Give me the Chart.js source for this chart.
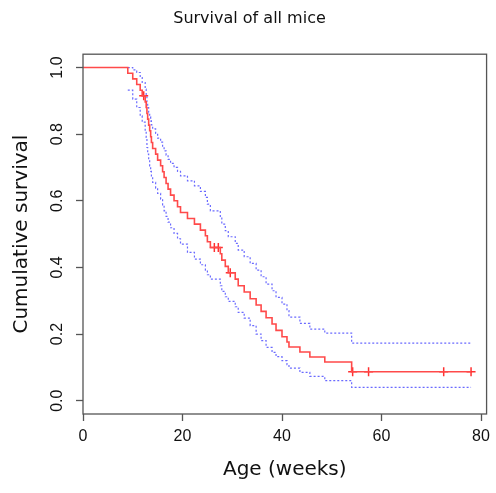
<!DOCTYPE html>
<html>
<head>
<meta charset="utf-8">
<script src="https://cdn.jsdelivr.net/npm/chart.js@4.4.1/dist/chart.umd.min.js"></script>
<style>
  body { margin: 0; background: #fff; }
</style>
</head>
<body>
<canvas id="survivalChart" width="496" height="493"></canvas>
<script>
// Kaplan-Meier estimate
const weeks = [0, 9.0, 10.0, 10.8, 11.5, 11.9, 12.5, 12.7, 12.85, 13.0, 13.2, 13.4, 13.6, 13.75, 14.0, 14.6, 15.0, 15.6, 16.0, 16.3, 16.7, 17.1, 17.6, 18.3, 19.0, 19.6, 21.0, 22.4, 23.6, 24.6, 25.0, 25.6, 27.6, 27.9, 28.6, 29.2, 30.6, 31.2, 32.4, 33.6, 34.8, 35.8, 36.8, 38.0, 38.8, 40.0, 41.0, 41.4, 43.6, 45.6, 48.6, 54.0, 78.0];
const survival = [1, 0.983, 0.966, 0.949, 0.932, 0.915, 0.897, 0.880, 0.862, 0.845, 0.827, 0.810, 0.792, 0.775, 0.757, 0.740, 0.722, 0.705, 0.687, 0.670, 0.652, 0.635, 0.617, 0.600, 0.582, 0.565, 0.547, 0.530, 0.512, 0.495, 0.477, 0.460, 0.441, 0.422, 0.403, 0.384, 0.365, 0.345, 0.326, 0.306, 0.287, 0.268, 0.249, 0.230, 0.211, 0.192, 0.176, 0.161, 0.146, 0.131, 0.116, 0.087, 0.087];
const upperCI = [null, 1.000, 0.993, 0.985, 0.970, 0.955, 0.935, 0.915, 0.895, 0.880, 0.866, 0.852, 0.840, 0.828, 0.816, 0.802, 0.788, 0.776, 0.762, 0.750, 0.737, 0.724, 0.712, 0.700, 0.688, 0.675, 0.660, 0.645, 0.628, 0.610, 0.590, 0.570, 0.550, 0.530, 0.510, 0.492, 0.472, 0.452, 0.432, 0.412, 0.392, 0.372, 0.350, 0.330, 0.310, 0.290, 0.270, 0.251, 0.232, 0.215, 0.203, 0.173, 0.173];
const lowerCI = [null, 0.932, 0.905, 0.880, 0.855, 0.836, 0.812, 0.790, 0.760, 0.740, 0.722, 0.705, 0.688, 0.672, 0.655, 0.638, 0.622, 0.605, 0.588, 0.570, 0.553, 0.536, 0.519, 0.502, 0.486, 0.470, 0.445, 0.425, 0.408, 0.392, 0.378, 0.365, 0.345, 0.328, 0.312, 0.298, 0.282, 0.265, 0.248, 0.225, 0.200, 0.180, 0.160, 0.145, 0.132, 0.120, 0.108, 0.098, 0.085, 0.073, 0.060, 0.040, 0.040];

// censored mice (+ marks)
const censorWeeks = [12.2, 26.4, 27.2, 29.6, 54.2, 57.4, 72.5, 78.0];
const censorSurvival = [0.915, 0.460, 0.460, 0.384, 0.087, 0.087, 0.087, 0.087];

const xTicks = [0, 20, 40, 60, 80];
const yTicks = [0, 0.2, 0.4, 0.6, 0.8, 1.0];

function toPoints(xs, ys) {
    return xs.map((x, i) => ({ x: x, y: ys[i] }));
}

const axisGrey = '#555';

// R style box round the plot region
const boxPlugin = {
    id: 'plotBox',
    afterDraw(chart) {
        const { ctx, chartArea } = chart;
        ctx.save();
        ctx.strokeStyle = axisGrey;
        ctx.lineWidth = 1.3;
        ctx.strokeRect(chartArea.left, chartArea.top, chartArea.right - chartArea.left, chartArea.bottom - chartArea.top);
        ctx.restore();
    }
};

new Chart(document.getElementById('survivalChart'), {
    type: 'line',
    data: {
        datasets: [
            {
                label: 'Survival',
                data: toPoints(weeks, survival),
                borderColor: '#ff4a4a',
                borderWidth: 1.6,
                stepped: true,
                pointRadius: 0
            },
            {
                type: 'scatter',
                label: 'Censored',
                data: toPoints(censorWeeks, censorSurvival),
                pointStyle: 'cross',
                pointRadius: 4.5,
                borderColor: '#ff3030',
                borderWidth: 1.5
            },
            {
                label: 'Upper 95% CI',
                data: toPoints(weeks, upperCI),
                borderColor: '#6a6aff',
                borderWidth: 1.2,
                borderDash: [2, 2],
                stepped: true,
                pointRadius: 0
            },
            {
                label: 'Lower 95% CI',
                data: toPoints(weeks, lowerCI),
                borderColor: '#6a6aff',
                borderWidth: 1.2,
                borderDash: [2, 2],
                stepped: true,
                pointRadius: 0
            }
        ]
    },
    options: {
        responsive: false,
        animation: false,
        layout: { padding: { left: 10, right: 7, top: 0, bottom: 0 } },
        plugins: {
            legend: { display: false },
            tooltip: { enabled: false },
            title: {
                display: true,
                text: 'Survival of all mice',
                color: '#111',
                font: { family: 'DejaVu Sans', size: 16, weight: 'normal' },
                padding: { top: 9, bottom: 26 }
            }
        },
        scales: {
            x: {
                type: 'linear',
                min: 0,
                max: 81.12,
                afterBuildTicks: (scale) => { scale.ticks = xTicks.map(v => ({ value: v })); },
                afterFit: (scale) => { scale.height = 79; },
                border: { display: false },
                grid: { drawOnChartArea: false, drawTicks: true, tickLength: 7, tickColor: axisGrey, tickWidth: 1.3 },
                ticks: {
                    color: '#111',
                    padding: 6,
                    font: { family: 'Liberation Sans', size: 16 }
                },
                title: {
                    display: true,
                    text: 'Age (weeks)',
                    color: '#111',
                    font: { family: 'DejaVu Sans', size: 20 },
                    padding: { top: 0, bottom: 11 }
                }
            },
            y: {
                type: 'linear',
                min: -0.04,
                max: 1.04,
                afterBuildTicks: (scale) => { scale.ticks = yTicks.map(v => ({ value: v })); },
                afterFit: (scale) => { scale.width = 73; },
                border: { display: false },
                grid: { drawOnChartArea: false, drawTicks: true, tickLength: 7, tickColor: axisGrey, tickWidth: 1.3 },
                ticks: {
                    color: '#111',
                    padding: 7,
                    minRotation: 90,
                    maxRotation: 90,
                    crossAlign: 'center',
                    font: { family: 'Liberation Sans', size: 16 },
                    callback: (value) => value.toFixed(1)
                },
                title: {
                    display: true,
                    text: 'Cumulative survival',
                    color: '#111',
                    font: { family: 'DejaVu Sans', size: 20 },
                    padding: { top: 0, bottom: 0 }
                }
            }
        }
    },
    plugins: [boxPlugin]
});
</script>
</body>
</html>
